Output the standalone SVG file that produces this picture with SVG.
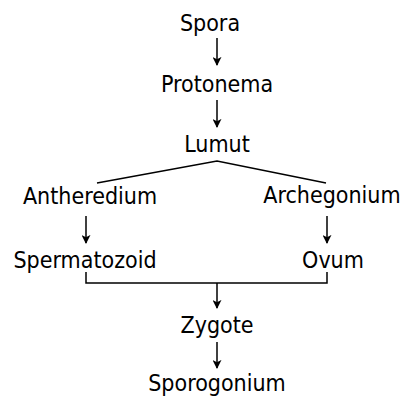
<svg xmlns="http://www.w3.org/2000/svg" width="405" height="400" viewBox="0 0 405 400">
<defs>
<style>
.t{font-family:"DejaVu Sans Condensed","DejaVu Sans","Liberation Sans",sans-serif;font-stretch:condensed;font-size:23px;fill:#000;text-anchor:middle}
.c{stroke:#000;stroke-width:1.5;fill:none}
</style>
<marker id="ah" viewBox="0 0 10 10" refX="9" refY="5" markerWidth="9" markerHeight="9" markerUnits="userSpaceOnUse" orient="auto">
<path d="M0,0 L10,5 L0,10 L2.5,5 Z" fill="#000"/>
</marker>
</defs>
<rect width="405" height="400" fill="#fff"/>
<g id="connectors">
<line class="c" x1="217" y1="38" x2="217" y2="65" marker-end="url(#ah)"/>
<line class="c" x1="217" y1="100" x2="217" y2="127" marker-end="url(#ah)"/>
<polyline class="c" stroke-width="2" points="97,183 217,161 326,183"/>
<line class="c" x1="86" y1="216" x2="86" y2="243" marker-end="url(#ah)"/>
<line class="c" x1="327" y1="216" x2="327" y2="243" marker-end="url(#ah)"/>
<polyline class="c" stroke-width="2" points="86,272 86,283 327,283 327,272"/>
<line class="c" x1="217" y1="283" x2="217" y2="308" marker-end="url(#ah)"/>
<line class="c" x1="217" y1="342" x2="217" y2="368" marker-end="url(#ah)"/>
</g>
<g id="spora"><text class="t" x="210" y="31">Spora</text></g>
<g id="protonema"><text class="t" x="217" y="92">Protonema</text></g>
<g id="lumut"><text class="t" x="217" y="152">Lumut</text></g>
<g id="antheredium"><text class="t" x="90" y="204">Antheredium</text></g>
<g id="archegonium"><text class="t" x="332" y="203">Archegonium</text></g>
<g id="spermatozoid"><text class="t" x="85" y="268">Spermatozoid</text></g>
<g id="ovum"><text class="t" x="333" y="268">Ovum</text></g>
<g id="zygote"><text class="t" x="217" y="333">Zygote</text></g>
<g id="sporogonium"><text class="t" x="217" y="391">Sporogonium</text></g>
</svg>
